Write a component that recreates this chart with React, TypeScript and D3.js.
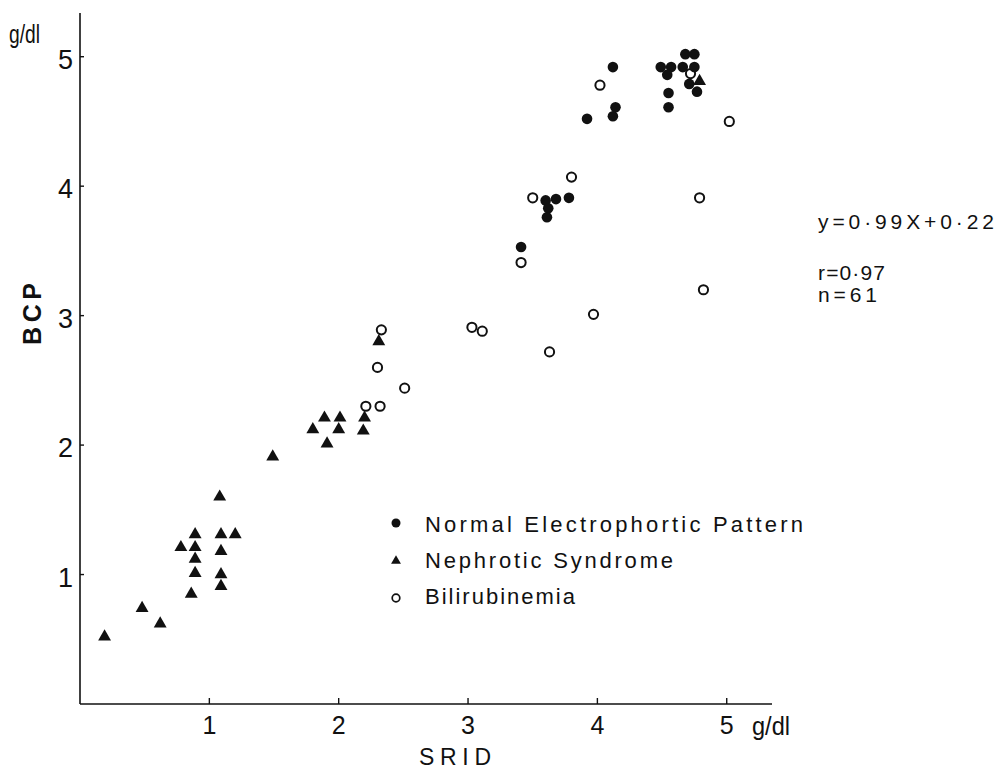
import React from "react";
import * as d3 from "d3";

const W = 1003;
const H = 769;

// [SRID g/dl, BCP g/dl]
const normalPattern: [number, number][] = [
  [3.41, 3.53], [3.6, 3.89], [3.68, 3.9], [3.78, 3.91], [3.62, 3.83], [3.61, 3.76],
  [3.92, 4.52], [4.12, 4.54], [4.14, 4.61], [4.12, 4.92], [4.49, 4.92], [4.57, 4.92],
  [4.54, 4.86], [4.55, 4.72], [4.55, 4.61], [4.68, 5.02], [4.75, 5.02], [4.66, 4.92],
  [4.75, 4.92], [4.71, 4.79], [4.77, 4.73],
];

const nephrotic: [number, number][] = [
  [0.19, 0.52], [0.48, 0.74], [0.62, 0.62], [0.86, 0.85], [0.89, 1.01], [0.89, 1.12],
  [0.78, 1.21], [0.89, 1.21], [0.89, 1.31], [1.09, 0.91], [1.09, 1.0], [1.09, 1.18],
  [1.09, 1.31], [1.2, 1.31], [1.08, 1.6], [1.49, 1.91], [1.8, 2.12], [1.89, 2.21],
  [1.91, 2.01], [2.0, 2.12], [2.01, 2.21], [2.19, 2.11], [2.2, 2.21], [2.31, 2.8],
  [4.79, 4.81],
];

const bilirubinemia: [number, number][] = [
  [2.21, 2.3], [2.32, 2.3], [2.51, 2.44], [2.3, 2.6], [2.33, 2.89], [3.03, 2.91],
  [3.11, 2.88], [3.63, 2.72], [3.97, 3.01], [3.41, 3.41], [3.5, 3.91], [3.8, 4.07],
  [4.82, 3.2], [4.79, 3.91], [5.02, 4.5], [4.02, 4.78], [4.72, 4.87],
];

const xTicks = [1, 2, 3, 4, 5];
const yTicks = [1, 2, 3, 4, 5];

const legendItems = [
  { label: "Normal Electrophortic Pattern", kind: "dot", len: 378 },
  { label: "Nephrotic Syndrome", kind: "tri", len: 248 },
  { label: "Bilirubinemia", kind: "open", len: 150 },
];

const statLines = [
  { text: "y=0·99X+0·22", len: 176 },
  { text: "r=0·97", len: 67 },
  { text: "n=61", len: 59 },
];

const FONT = "'Liberation Sans', 'DejaVu Sans', Arial, sans-serif";

const x = d3.scaleLinear().domain([0, 5.35]).range([80, 772]);
const y = d3.scaleLinear().domain([0, 5.33]).range([704, 14]);

const triPath = (s: number) => d3.symbol().type(d3.symbolTriangle).size(s)() as string;

export default function App() {
  const bigTri = triPath(72);
  const smallTri = triPath(42);
  return (
    <svg
      width={W}
      height={H}
      viewBox={`0 0 ${W} ${H}`}
      style={{ position: "absolute", left: 0, top: 0, background: "#fff" }}
      fontFamily={FONT}
    >
      <rect x={0} y={0} width={W} height={H} fill="#fff" />
      {/* axes */}
      <line x1={x(0)} x2={x(0)} y1={13} y2={y(0)} stroke="#111" strokeWidth={1.6} />
      <line x1={x(0)} x2={772} y1={y(0)} y2={y(0)} stroke="#111" strokeWidth={1.6} />
      {yTicks.map((t) => (
        <g key={"yt" + t}>
          <line x1={x(0)} x2={x(0) + 4} y1={y(t)} y2={y(t)} stroke="#111" strokeWidth={1.4} />
          <text x={73} y={y(t) + 12} textAnchor="end" fontSize={27} fill="#111">
            {t}
          </text>
        </g>
      ))}
      {xTicks.map((t) => (
        <g key={"xt" + t}>
          <line x1={x(t)} x2={x(t)} y1={y(0)} y2={y(0) - 6} stroke="#111" strokeWidth={1.4} />
          <text x={x(t)} y={734} textAnchor="middle" fontSize={25} fill="#111">
            {t}
          </text>
        </g>
      ))}
      {/* unit labels */}
      <text x={9} y={43} fontSize={26} fill="#111" textLength={31} lengthAdjust="spacingAndGlyphs">g/dl</text>
      <text x={752} y={735} fontSize={25} fill="#111" textLength={38} lengthAdjust="spacingAndGlyphs">g/dl</text>
      {/* axis titles */}
      <text x={419} y={765} fontSize={23} fill="#111" textLength={72} lengthAdjust="spacing">
        SRID
      </text>
      <text
        transform={`translate(41,314) rotate(-90)`}
        textAnchor="middle"
        fontSize={25}
        fontWeight="bold"
        fill="#111"
        textLength={62}
        lengthAdjust="spacing"
      >
        BCP
      </text>
      {/* data */}
      {bilirubinemia.map((d, i) => (
        <circle key={"b" + i} cx={x(d[0])} cy={y(d[1])} r={4.6} fill="#fff" stroke="#111" strokeWidth={2} />
      ))}
      {nephrotic.map((d, i) => (
        <path key={"n" + i} d={bigTri} transform={`translate(${x(d[0])},${y(d[1])})`} fill="#111" />
      ))}
      {normalPattern.map((d, i) => (
        <circle key={"p" + i} cx={x(d[0])} cy={y(d[1])} r={5.3} fill="#111" />
      ))}
      {/* legend */}
      {legendItems.map((it, i) => {
        const cy = 523 + i * 36;
        return (
          <g key={"lg" + i}>
            {it.kind === "dot" && <circle cx={396} cy={cy} r={4.5} fill="#111" />}
            {it.kind === "tri" && <path d={smallTri} transform={`translate(396,${cy + 2})`} fill="#111" />}
            {it.kind === "open" && <circle cx={396} cy={cy + 3} r={3.8} fill="none" stroke="#111" strokeWidth={1.7} />}
            <text
              x={425}
              y={cy + 9}
              fontSize={22}
              fill="#111"
              textLength={it.len}
              lengthAdjust="spacing"
            >
              {it.label}
            </text>
          </g>
        );
      })}
      {/* statistics */}
      {statLines.map((s, i) => (
        <text
          key={"st" + i}
          x={818}
          y={[229, 280, 302][i]}
          fontSize={21}
          fill="#111"
          textLength={s.len}
          lengthAdjust="spacing"
        >
          {s.text}
        </text>
      ))}
    </svg>
  );
}
